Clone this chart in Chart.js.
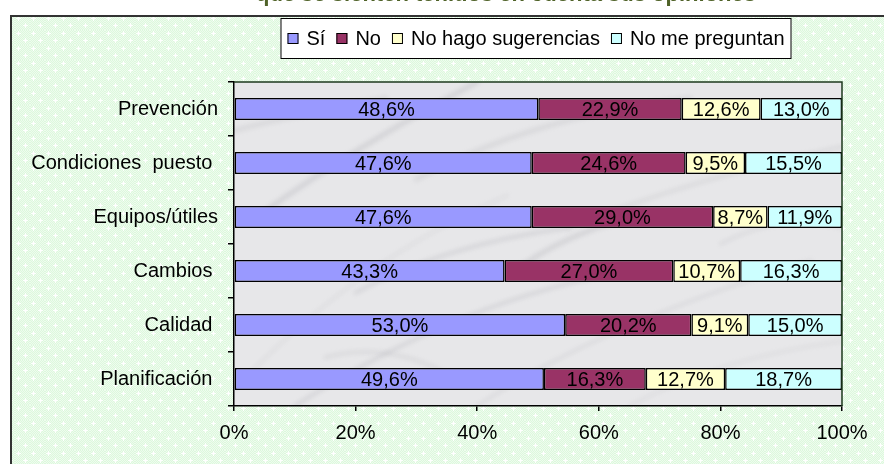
<!DOCTYPE html>
<html>
<head>
<meta charset="utf-8">
<script src="https://cdn.jsdelivr.net/npm/chart.js@4/dist/chart.umd.min.js"></script>
<style>
html, body { margin: 0; padding: 0; background: #fff; }
#wrap { width: 884px; height: 464px; }
</style>
</head>
<body>
<div id="wrap"><canvas id="grafico" width="884" height="464"></canvas></div>
<script>
// datos
const categorias = ['Prevención', 'Condiciones  puesto ', 'Equipos/útiles', 'Cambios ', 'Calidad ', 'Planificación '];
const si = [48.6, 47.6, 47.6, 43.3, 53.0, 49.6];
const no = [22.9, 24.6, 29.0, 27.0, 20.2, 16.3];
const noHago = [12.6, 9.5, 8.7, 10.7, 9.1, 12.7];
const noPreguntan = [13.0, 15.5, 11.9, 16.3, 15.0, 18.7];
const series = ['Sí', 'No', 'No hago sugerencias', 'No me preguntan'];
const xTicks = [0, 20, 40, 60, 80, 100];
const titulo = 'que se sienten tenidos en cuenta sus opiniones';

const colores = ['#9999ff', '#993366', '#ffffcc', '#ccffff'];
const fuente = "'Liberation Sans', Arial, sans-serif";

const valores = [si, no, noHago, noPreguntan];

// 100% apilado: cada barra se normaliza a su total
const totales = categorias.map(function(c, i){
	return si[i] + no[i] + noHago[i] + noPreguntan[i];
});

const datasets = valores.map(function(serie, s){
	return {
		label: series[s],
		data: serie.map(function(v, i){ return v / totales[i] * 100; }),
		raw: serie,
		backgroundColor: colores[s],
		borderColor: '#000',
		borderWidth: 1.5,
		borderSkipped: false,
		categoryPercentage: 1,
		barPercentage: 0.41
	};
});

function formato(v){
	return v.toFixed(1).replace('.', ',') + '%';
}

// fondo verde con puntitos
function patronVerde(ctx){
	const c = document.createElement('canvas');
	c.width = 15; c.height = 15;
	const p = c.getContext('2d');
	p.fillStyle = '#ddf8dd';
	p.fillRect(0, 0, 15, 15);
	p.fillStyle = 'rgba(255,255,255,0.5)';
	for (let y = 0; y < 15; y++){
		for (let x = (y % 2); x < 15; x += 2){
			p.fillRect(x, y, 1, 1);
		}
	}
	p.fillStyle = '#fff';
	[[3, 3], [10, 10]].forEach(function(pt){
		p.fillRect(pt[0] - 2, pt[1], 5, 1);
		p.fillRect(pt[0], pt[1] - 2, 1, 5);
	});
	return ctx.createPattern(c, 'repeat');
}

// vetas del marmol (relativas al area: 0..1)
const vetas = [
	[0.00, 0.95, 0.20, 0.55, 0.45, 0.35],
	[0.10, 1.00, 0.35, 0.70, 0.60, 0.60],
	[0.30, 0.30, 0.50, 0.10, 0.75, 0.05],
	[0.40, 1.00, 0.60, 0.75, 0.95, 0.55],
	[0.55, 0.45, 0.75, 0.30, 1.00, 0.20],
	[0.05, 0.40, 0.20, 0.20, 0.40, 0.00],
	[0.65, 1.00, 0.80, 0.85, 1.00, 0.80],
	[0.20, 0.65, 0.35, 0.50, 0.55, 0.45],
	[0.00, 0.15, 0.10, 0.10, 0.25, 0.05],
	[0.80, 0.50, 0.90, 0.40, 1.00, 0.45],
	[0.15, 0.85, 0.25, 0.80, 0.35, 0.90],
	[0.45, 0.60, 0.55, 0.45, 0.70, 0.40]
];

function marmol(ctx, a){
	const w = a.right - a.left, h = a.bottom - a.top;
	ctx.save();
	ctx.beginPath();
	ctx.rect(a.left, a.top, w, h);
	ctx.clip();
	ctx.fillStyle = '#e7e7e9';
	ctx.fillRect(a.left, a.top, w, h);
	ctx.lineCap = 'round';
	ctx.filter = 'blur(2px)';
	vetas.forEach(function(v, k){
		ctx.strokeStyle = k % 2 ? 'rgba(130,130,138,0.18)' : 'rgba(150,150,158,0.16)';
		ctx.lineWidth = 2 + (k % 3) * 1.5;
		ctx.beginPath();
		ctx.moveTo(a.left + v[0] * w, a.top + v[1] * h);
		ctx.quadraticCurveTo(a.left + v[2] * w, a.top + v[3] * h, a.left + v[4] * w, a.top + v[5] * h);
		ctx.stroke();
	});
	ctx.restore();
}

const fondo = {
	id: 'fondo',
	beforeDraw: function(chart){
		const ctx = chart.ctx;
		const a = chart.chartArea;
		ctx.save();
		ctx.fillStyle = '#fff';
		ctx.fillRect(0, 0, chart.width, chart.height);
		ctx.fillStyle = patronVerde(ctx);
		ctx.fillRect(10, 15, chart.width - 10, chart.height - 15);
		ctx.strokeStyle = '#333';
		ctx.lineWidth = 2;
		ctx.beginPath();
		ctx.moveTo(11, chart.height);
		ctx.lineTo(11, 16);
		ctx.lineTo(chart.width, 16);
		ctx.stroke();

		marmol(ctx, a);

		// titulo (cortado arriba)
		ctx.fillStyle = '#4f6228';
		ctx.font = 'bold 22px ' + fuente;
		ctx.textAlign = 'center';
		ctx.textBaseline = 'alphabetic';
		ctx.fillText(titulo, 506, 0.5);
		ctx.restore();
	}
};

const etiquetas = {
	id: 'etiquetas',
	afterDatasetsDraw: function(chart){
		const ctx = chart.ctx;
		ctx.save();
		ctx.font = '20px ' + fuente;
		ctx.fillStyle = '#000';
		ctx.textAlign = 'center';
		ctx.textBaseline = 'middle';
		chart.data.datasets.forEach(function(ds, d){
			chart.getDatasetMeta(d).data.forEach(function(bar, i){
				const p = bar.getProps(['x', 'base', 'y'], true);
				ctx.fillText(formato(ds.raw[i]), (p.x + p.base) / 2, p.y + 1);
			});
		});
		ctx.restore();
	}
};

const leyenda = {
	id: 'leyenda',
	afterDraw: function(chart){
		const ctx = chart.ctx;
		const a = chart.chartArea;
		ctx.save();
		// borde del area
		ctx.strokeStyle = '#1e3a1e';
		ctx.lineWidth = 1.5;
		ctx.beginPath();
		ctx.moveTo(a.left, a.top);
		ctx.lineTo(a.right, a.top);
		ctx.lineTo(a.right, a.bottom);
		ctx.stroke();

		ctx.font = '20px ' + fuente;
		let ancho = 0;
		series.forEach(function(s, k){
			ancho += 11 + 8 + ctx.measureText(s).width + (k < series.length - 1 ? 11 : 0);
		});
		const w = ancho + 14;
		const x0 = 536 - w / 2;
		ctx.fillStyle = '#fff';
		ctx.fillRect(x0, 18, w, 41);
		ctx.strokeStyle = '#000';
		ctx.lineWidth = 1;
		ctx.strokeRect(x0 + 0.5, 18.5, w - 1, 40);

		let x = x0 + 7;
		ctx.textBaseline = 'middle';
		ctx.textAlign = 'left';
		series.forEach(function(s, k){
			ctx.fillStyle = colores[k];
			ctx.fillRect(x, 33, 11, 11);
			ctx.strokeStyle = '#000';
			ctx.strokeRect(x + 0.5, 33.5, 10, 10);
			x += 11 + 8;
			ctx.fillStyle = '#000';
			ctx.fillText(s, x, 39);
			x += ctx.measureText(s).width + 11;
		});
		ctx.restore();
	}
};

const ctx1 = document.getElementById('grafico');

const barras = new Chart(ctx1, {
	type: 'bar',
	data: {
		labels: categorias,
		datasets: datasets
	},
	options: {
		indexAxis: 'y',
		responsive: false,
		animation: false,
		layout: {
			padding: { left: 0, right: 42, top: 82, bottom: 0 }
		},
		plugins: {
			legend: { display: false },
			title: { display: false },
			tooltip: { enabled: false }
		},
		scales: {
			x: {
				stacked: true,
				min: 0,
				max: 100,
				afterBuildTicks: function(scale){
					scale.ticks = xTicks.map(function(v){ return { value: v }; });
				},
				afterFit: function(scale){ scale.height = 58; },
				border: { display: true, color: '#000', width: 1.5 },
				grid: { drawOnChartArea: false, drawTicks: true, tickLength: 5, color: '#000', lineWidth: 1.5 },
				ticks: {
					color: '#000',
					padding: 10,
					maxRotation: 0,
					font: { family: fuente, size: 20 },
					callback: function(v){ return v + '%'; }
				}
			},
			y: {
				stacked: true,
				afterFit: function(scale){ scale.width = 234; },
				border: { display: true, color: '#000', width: 1.5 },
				grid: { offset: true, drawOnChartArea: false, drawTicks: true, tickLength: 6, color: '#000', lineWidth: 1.5 },
				ticks: {
					color: '#000',
					padding: 10,
					font: { family: fuente, size: 20 }
				}
			}
		}
	},
	plugins: [fondo, etiquetas, leyenda]
});
</script>
</body>
</html>
